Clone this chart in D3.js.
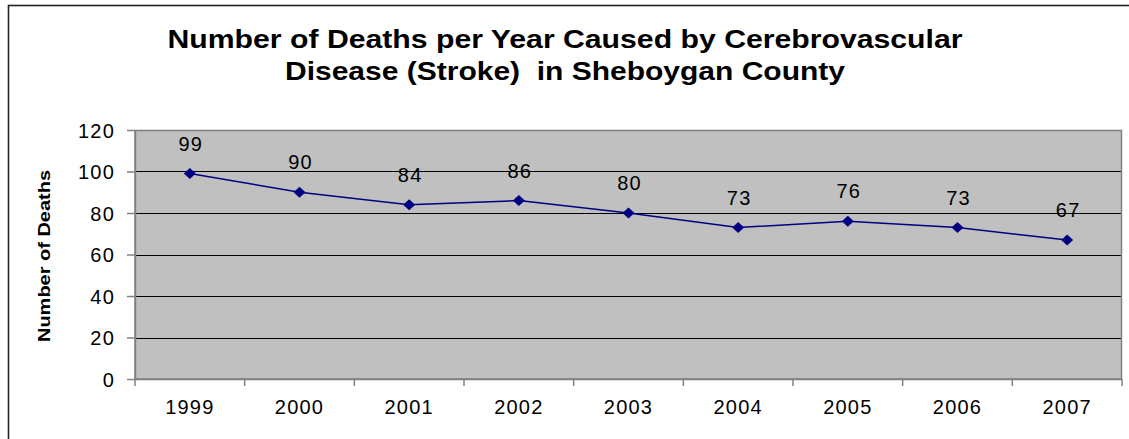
<!DOCTYPE html>
<meta charset="utf-8">
<style>
body { margin: 0; background: #fff; }
text { font-family: "Liberation Sans", Arial, sans-serif; fill: #000; }
.tick text { font-size: 20px; letter-spacing: 1.2px; }
.title { font-size: 25px; font-weight: bold; white-space: pre; }
.ylabel { font-size: 16px; font-weight: bold; }
.lbl { font-size: 20px; letter-spacing: 1.2px; }
.line { fill: none; stroke: #000080; stroke-width: 1.5; }
.dot { fill: #000080; }
</style>
<body>
<script src="https://d3js.org/d3.v7.min.js"></script>
<script>
// data
var years = ["1999", "2000", "2001", "2002", "2003", "2004", "2005", "2006", "2007"];
var deaths = [99, 90, 84, 86, 80, 73, 76, 73, 67];
var yTicks = [0, 20, 40, 60, 80, 100, 120];
var titleLines = ["Number of Deaths per Year Caused by Cerebrovascular", "Disease (Stroke)  in Sheboygan County"];

var W = 1129, H = 439;
var margin = {top: 130, right: 7, bottom: 60, left: 135};
var width = W - margin.left - margin.right,
    height = H - margin.top - margin.bottom;

var svg = d3.select("body").append("svg")
    .attr("width", W)
    .attr("height", H);

// outer chart frame (runs past the picture edge)
svg.append("rect")
    .attr("x", 8.5).attr("y", 5.5)
    .attr("width", W + 20).attr("height", H + 20)
    .attr("fill", "none")
    .attr("stroke", "#222")
    .attr("stroke-width", 1.6);

// title
svg.selectAll(".title")
    .data(titleLines)
  .enter().append("text")
    .attr("class", "title")
    .attr("x", 565)
    .attr("y", function(d, i) { return 48 + i * 32; })
    .attr("text-anchor", "middle")
    .attr("textLength", function(d, i) { return i == 0 ? 795 : 560; })
    .attr("lengthAdjust", "spacingAndGlyphs")
    .text(function(d) { return d; });

var g = svg.append("g")
    .attr("transform", "translate(" + margin.left + "," + margin.top + ")");

var x = d3.scaleBand().domain(years).range([0, width]);
var y = d3.scaleLinear().domain([0, 120]).range([height, 0]);

// plot area
g.append("rect")
    .attr("width", width).attr("height", height)
    .attr("fill", "#c0c0c0");

// gridlines
g.selectAll(".grid")
    .data(yTicks.filter(function(d) { return d > 0 && d < 120; }))
  .enter().append("line")
    .attr("x1", 0).attr("x2", width)
    .attr("y1", function(d) { return Math.round(y(d)) + 0.5; })
    .attr("y2", function(d) { return Math.round(y(d)) + 0.5; })
    .attr("stroke", "#000")
    .attr("stroke-width", 1);

g.append("rect")
    .attr("x", 0.5).attr("y", 0.5)
    .attr("width", width - 1).attr("height", height)
    .attr("fill", "none")
    .attr("stroke", "#808080")
    .attr("stroke-width", 1.5);

// y axis
var yAxis = g.append("g")
    .call(d3.axisLeft(y).tickValues(yTicks).tickSize(8).tickPadding(12));
yAxis.selectAll("line, path").attr("stroke", "#808080").attr("stroke-width", 1.5);
yAxis.select(".domain").attr("d", "M0,0V" + height);
yAxis.selectAll("text").attr("dy", "0.36em").style("font-family", "Liberation Sans, Arial, sans-serif");

// x axis, ticks sit at category borders
var xAxis = g.append("g")
    .attr("transform", "translate(0," + height + ")")
    .call(d3.axisBottom(x).tickSize(0).tickPadding(21));
xAxis.select(".domain").attr("stroke", "#808080").attr("stroke-width", 1.5).attr("d", "M0,0H" + width);
xAxis.selectAll("text").style("font-family", "Liberation Sans, Arial, sans-serif");
xAxis.selectAll(".border")
    .data(d3.range(years.length + 1))
  .enter().append("line")
    .attr("x1", function(i) { return i * x.step(); })
    .attr("x2", function(i) { return i * x.step(); })
    .attr("y1", 0).attr("y2", 7)
    .attr("stroke", "#808080").attr("stroke-width", 1.5);

// y label
svg.append("text")
    .attr("class", "ylabel")
    .attr("transform", "translate(50,256) rotate(-90)")
    .attr("text-anchor", "middle")
    .attr("textLength", 172)
    .attr("lengthAdjust", "spacingAndGlyphs")
    .text("Number of Deaths");

// line
var cx = function(d, i) { return x(years[i]) + x.bandwidth() / 2; };
var line = d3.line()
    .x(cx)
    .y(function(d) { return y(d); });

g.append("path")
    .datum(deaths)
    .attr("class", "line")
    .attr("d", line);

// Excel style diamond marker
g.selectAll(".dot")
    .data(deaths)
  .enter().append("path")
    .attr("class", "dot")
    .attr("d", "M0,-5.5L6,0L0,5.5L-6,0Z")
    .attr("transform", function(d, i) { return "translate(" + cx(d, i) + "," + y(d) + ")"; });

g.selectAll(".lbl")
    .data(deaths)
  .enter().append("text")
    .attr("class", "lbl")
    .attr("x", function(d, i) { return cx(d, i) + 1; })
    .attr("y", function(d) { return y(d) - 23; })
    .attr("text-anchor", "middle")
    .text(function(d) { return d; });
</script>
</body>
